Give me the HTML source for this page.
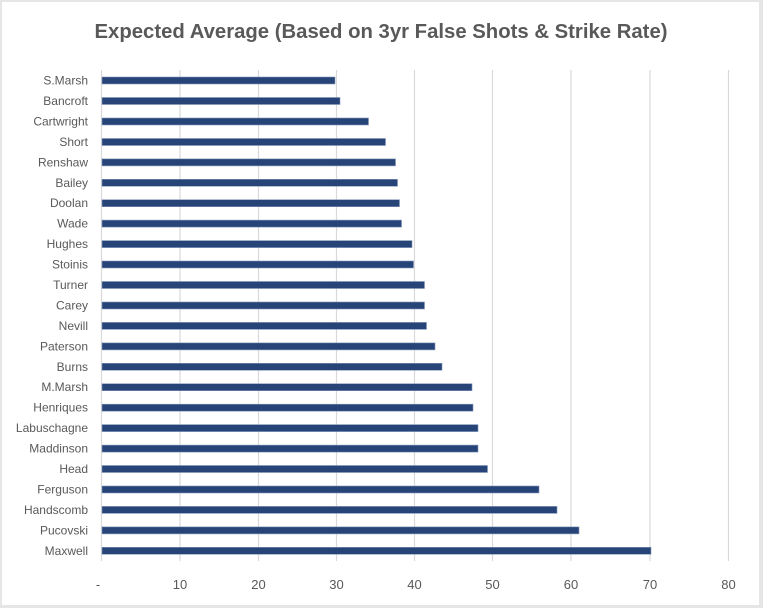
<!DOCTYPE html>
<html><head><meta charset="utf-8"><style>
html,body{margin:0;padding:0;background:#fff}
svg{display:block}
text{font-family:"Liberation Sans",sans-serif;fill:#595959}
</style></head><body>
<svg width="763" height="608" viewBox="0 0 763 608">
<rect x="0" y="0" width="763" height="608" fill="#e6e6e6"/>
<rect x="2" y="2" width="757" height="603" fill="#fff"/>
<text x="381" y="38" font-size="20" font-weight="bold" text-anchor="middle" textLength="573" lengthAdjust="spacingAndGlyphs">Expected Average (Based on 3yr False Shots &amp; Strike Rate)</text>
<g stroke="#d9d9d9" stroke-width="1.2">
<line x1="180" y1="70" x2="180" y2="561"/>
<line x1="258.5" y1="70" x2="258.5" y2="561"/>
<line x1="336.5" y1="70" x2="336.5" y2="561"/>
<line x1="414.5" y1="70" x2="414.5" y2="561"/>
<line x1="492.5" y1="70" x2="492.5" y2="561"/>
<line x1="571" y1="70" x2="571" y2="561"/>
<line x1="650" y1="70" x2="650" y2="561"/>
<line x1="728.5" y1="70" x2="728.5" y2="561"/>
<line x1="101.5" y1="70" x2="101.5" y2="561"/>
</g>
<g fill="#264478" stroke="#8497b8" stroke-width="0.6">
<rect x="102" y="77" width="233" height="7"/>
<rect x="102" y="97.5" width="238" height="7"/>
<rect x="102" y="118" width="266.5" height="7"/>
<rect x="102" y="138.5" width="283.5" height="7"/>
<rect x="102" y="158.9" width="293.5" height="7"/>
<rect x="102" y="179.3" width="295.5" height="7"/>
<rect x="102" y="199.7" width="297.5" height="7"/>
<rect x="102" y="220.1" width="299.5" height="7"/>
<rect x="102" y="240.6" width="310" height="7"/>
<rect x="102" y="261" width="311.5" height="7"/>
<rect x="102" y="281.5" width="322.5" height="7"/>
<rect x="102" y="302" width="322.5" height="7"/>
<rect x="102" y="322.4" width="324.5" height="7"/>
<rect x="102" y="342.9" width="333" height="7"/>
<rect x="102" y="363.3" width="340" height="7"/>
<rect x="102" y="383.7" width="370" height="7"/>
<rect x="102" y="404.2" width="371" height="7"/>
<rect x="102" y="424.6" width="376" height="7"/>
<rect x="102" y="445.1" width="376" height="7"/>
<rect x="102" y="465.5" width="385.5" height="7"/>
<rect x="102" y="486" width="437" height="7"/>
<rect x="102" y="506.4" width="455" height="7"/>
<rect x="102" y="526.9" width="477" height="7"/>
<rect x="102" y="547.3" width="549" height="7"/>
</g>
<g font-size="12" text-anchor="end">
<text x="88" y="84.5">S.Marsh</text>
<text x="88" y="105">Bancroft</text>
<text x="88" y="125.5">Cartwright</text>
<text x="88" y="146">Short</text>
<text x="88" y="166.4">Renshaw</text>
<text x="88" y="186.8">Bailey</text>
<text x="88" y="207.2">Doolan</text>
<text x="88" y="227.6">Wade</text>
<text x="88" y="248.1">Hughes</text>
<text x="88" y="268.5">Stoinis</text>
<text x="88" y="289">Turner</text>
<text x="88" y="309.5">Carey</text>
<text x="88" y="329.9">Nevill</text>
<text x="88" y="350.4">Paterson</text>
<text x="88" y="370.8">Burns</text>
<text x="88" y="391.2">M.Marsh</text>
<text x="88" y="411.7">Henriques</text>
<text x="88" y="432.1">Labuschagne</text>
<text x="88" y="452.6">Maddinson</text>
<text x="88" y="473">Head</text>
<text x="88" y="493.5">Ferguson</text>
<text x="88" y="513.9">Handscomb</text>
<text x="88" y="534.4">Pucovski</text>
<text x="88" y="554.8">Maxwell</text>
</g>
<g font-size="13" text-anchor="middle">
<text x="98" y="589">-</text>
<text x="180" y="589">10</text>
<text x="258.5" y="589">20</text>
<text x="336.5" y="589">30</text>
<text x="414.5" y="589">40</text>
<text x="492.5" y="589">50</text>
<text x="571" y="589">60</text>
<text x="650" y="589">70</text>
<text x="728.5" y="589">80</text>
</g>
</svg>
</body></html>
